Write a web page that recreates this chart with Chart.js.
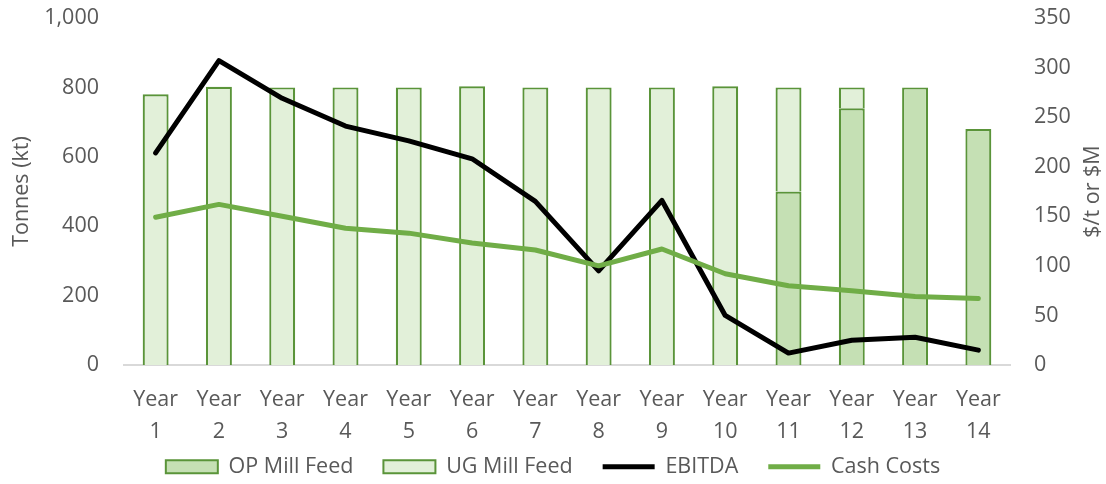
<!DOCTYPE html>
<html>
<head>
<meta charset="utf-8">
<script src="https://cdn.jsdelivr.net/npm/chart.js@4.4.0/dist/chart.umd.min.js"></script>
<style>
  body { margin: 0; background: #fff; }
  #wrap { width: 1106px; height: 484px; position: relative; }
</style>
</head>
<body>
<div id="wrap"><canvas id="grafico"></canvas></div>
<script>
// Datos
const years = [['Year', '1'], ['Year', '2'], ['Year', '3'], ['Year', '4'], ['Year', '5'], ['Year', '6'], ['Year', '7'],
               ['Year', '8'], ['Year', '9'], ['Year', '10'], ['Year', '11'], ['Year', '12'], ['Year', '13'], ['Year', '14']];
const opMillFeed = [0, 0, 0, 0, 0, 0, 0, 0, 0, 0, 500, 740, 800, 680];
const ugMillFeed = [780, 802, 800, 800, 800, 803, 800, 800, 800, 803, 300, 60, 0, 0];
const ebitda = [214, 307, 269, 241, 226, 208, 165, 95, 166, 50, 12, 25, 28, 15];
const cashCosts = [149, 162, 150, 138, 133, 123, 116, 100, 117, 92, 80, 75, 69, 67];
const leftTicks = [0, 200, 400, 600, 800, 1000];
const rightTicks = [0, 50, 100, 150, 200, 250, 300, 350];
const tituloDerecho = '$/t or $M';

const gris = '#595959';
const borde = '#5a9439';
const fuente = { family: "'Open Sans', sans-serif", size: 21.5 };

// Leyenda con altura fija, etiquetas del eje X sin recorte y titulo derecho leido de abajo hacia arriba
const ajustesLayout = {
    id: 'ajustesLayout',
    afterInit(chart) {
        const lg = chart.legend;
        if (!lg) return;
        const fitOrig = lg.fit.bind(lg);
        lg.fit = function() {
            fitOrig();
            this.height = 58;
        };
    },
    afterLayout(chart) {
        if (chart.scales.x) {
            chart.scales.x._computeLabelArea = () => undefined;
        }
    },
    afterDraw(chart) {
        const ctx = chart.ctx;
        const area = chart.chartArea;
        ctx.save();
        ctx.translate(chart.width - 13, (area.top + area.bottom) / 2);
        ctx.rotate(-Math.PI / 2);
        ctx.font = `${fuente.size}px ${fuente.family}`;
        ctx.fillStyle = gris;
        ctx.textAlign = 'center';
        ctx.textBaseline = 'middle';
        ctx.fillText(tituloDerecho, 0, 0);
        ctx.restore();
    }
};

new Chart(document.getElementById('grafico'), {
    type: 'bar',
    data: {
        labels: years,
        datasets: [
            {
                label: 'OP Mill Feed',
                data: opMillFeed,
                backgroundColor: '#c5e0b4',
                borderColor: borde,
                borderWidth: 2.2,
                stack: 'feed',
                yAxisID: 'y',
                order: 2,
                categoryPercentage: 1,
                barPercentage: 0.41
            },
            {
                label: 'UG Mill Feed',
                data: ugMillFeed,
                backgroundColor: '#e2f0d9',
                borderColor: borde,
                borderWidth: 2.2,
                stack: 'feed',
                yAxisID: 'y',
                order: 2,
                categoryPercentage: 1,
                barPercentage: 0.41
            },
            {
                type: 'line',
                label: 'EBITDA',
                data: ebitda,
                borderColor: '#000000',
                backgroundColor: '#000000',
                borderWidth: 5,
                pointRadius: 0,
                tension: 0,
                borderJoinStyle: 'round',
                borderCapStyle: 'round',
                yAxisID: 'y2',
                order: 1
            },
            {
                type: 'line',
                label: 'Cash Costs',
                data: cashCosts,
                borderColor: '#70ad47',
                backgroundColor: '#70ad47',
                borderWidth: 5,
                pointRadius: 0,
                tension: 0,
                borderJoinStyle: 'round',
                borderCapStyle: 'round',
                yAxisID: 'y2',
                order: 0
            }
        ]
    },
    options: {
        responsive: true,
        maintainAspectRatio: false,
        animation: false,
        layout: { padding: { top: 18, left: 0, right: 0, bottom: 0 } },
        plugins: {
            tooltip: { enabled: false },
            legend: {
                position: 'bottom',
                labels: {
                    font: fuente,
                    color: gris,
                    usePointStyle: true,
                    pointStyleWidth: 52,
                    boxHeight: 13,
                    padding: 30,
                    sort: (a, b) => a.datasetIndex - b.datasetIndex,
                    generateLabels: function(chart) {
                        const items = Chart.defaults.plugins.legend.labels.generateLabels(chart);
                        items.forEach(it => {
                            const ds = chart.data.datasets[it.datasetIndex];
                            if (ds.type === 'line') {
                                it.pointStyle = 'line';
                                it.lineWidth = 5;
                                it.strokeStyle = ds.borderColor;
                            } else {
                                it.pointStyle = 'rect';
                                it.lineWidth = 2;
                                it.fillStyle = ds.backgroundColor;
                                it.strokeStyle = ds.borderColor;
                            }
                        });
                        return items;
                    }
                }
            }
        },
        scales: {
            x: {
                stacked: true,
                afterFit: s => { s.height = 61; },
                grid: { display: false, drawTicks: false },
                border: { display: true, color: '#d9d9d9', width: 2 },
                ticks: { font: { ...fuente, lineHeight: 1.47 }, color: gris, padding: 19, maxRotation: 0, autoSkip: false }
            },
            y: {
                stacked: true,
                position: 'left',
                min: 0,
                max: 1000,
                afterBuildTicks: s => { s.ticks = leftTicks.map(v => ({ value: v })); },
                afterFit: s => { s.width = 124; s.paddingTop = 0; s.paddingBottom = 0; },
                grid: { display: false, drawTicks: false },
                border: { display: false },
                ticks: { font: fuente, color: gris, padding: 25, callback: v => v.toLocaleString('en-US') },
                title: { display: true, text: 'Tonnes (kt)', font: fuente, color: gris, padding: { top: 9, bottom: 0 } }
            },
            y2: {
                position: 'right',
                min: 0,
                max: 350,
                afterBuildTicks: s => { s.ticks = rightTicks.map(v => ({ value: v })); },
                afterFit: s => { s.width = 96; s.paddingTop = 0; s.paddingBottom = 0; },
                grid: { display: false, drawTicks: false },
                border: { display: false },
                ticks: { font: fuente, color: gris, padding: 24 },
                title: { display: false }
            }
        }
    },
    plugins: [ajustesLayout]
});
</script>
</body>
</html>
